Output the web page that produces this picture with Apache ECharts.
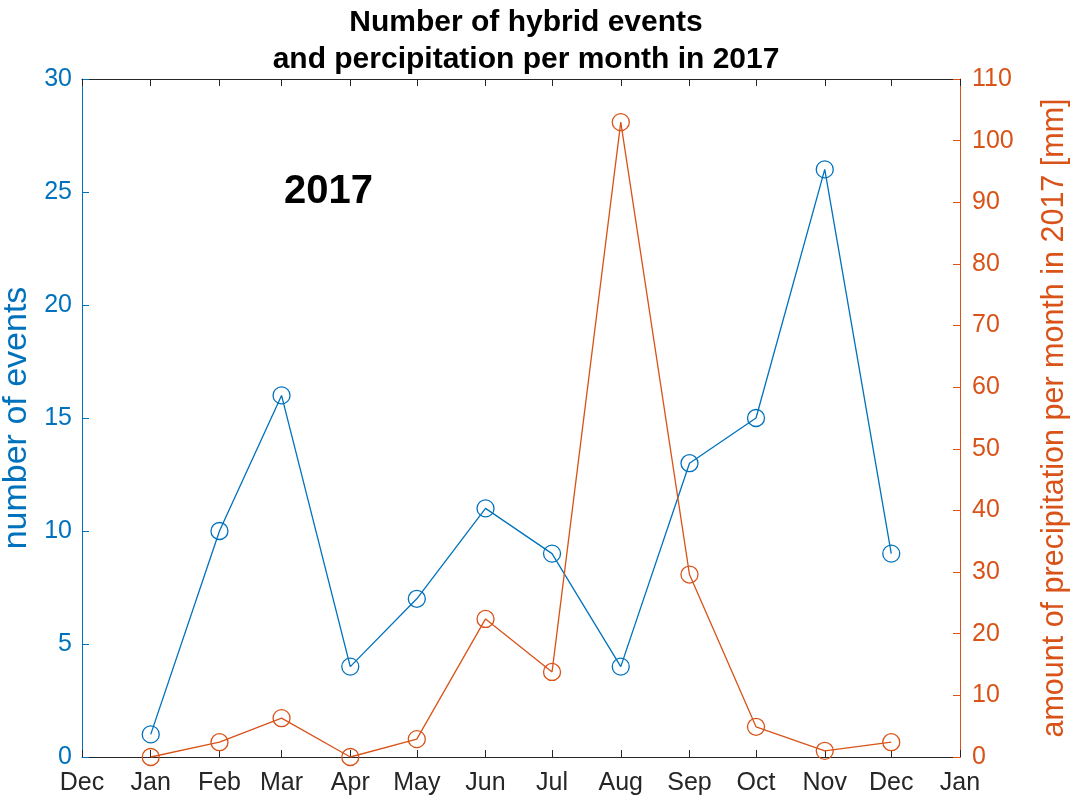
<!DOCTYPE html>
<html>
<head>
<meta charset="utf-8">
<script src="https://cdn.jsdelivr.net/npm/echarts@6/dist/echarts.min.js"></script>
<style>
html,body{margin:0;padding:0;background:#fff;}
#chart{width:1070px;height:803px;}
</style>
</head>
<body>
<div id="chart"></div>
<script>
// ---- data ----
var months = ['Jan','Feb','Mar','Apr','May','Jun','Jul','Aug','Sep','Oct','Nov','Dec'];
var tickLabels = ['Jan','Feb','Mar','Apr','May','Jun','Jul','Aug','Sep','Oct','Nov','Dec'];
var year = 2017;
var events = [1, 10, 16, 4, 7, 11, 9, 4, 13, 15, 26, 9];
var precip = [0, 2.4, 6.3, 0, 2.9, 22.4, 13.8, 103.0, 29.6, 4.9, 1.0, 2.4];

var BLUE = '#0072BD';
var ORANGE = '#D95319';
var DARK = '#262626';
var FONT = '"Liberation Sans", Arial, Helvetica, sans-serif';

function monthDate(i) { return new Date(year, i, 1).getTime(); }
var eventsData = months.map(function (m, i) { return [monthDate(i), events[i]]; });
var precipData = months.map(function (m, i) { return [monthDate(i), precip[i]]; });
var xMin = new Date(year - 1, 11, 1).getTime();
var xMax = new Date(year + 1, 0, 1).getTime();
var DAY = 86400000;

var chart = echarts.init(document.getElementById('chart'), null, {renderer: 'canvas'});

function timeAxis(pos, showLabels) {
  return {
    type: 'time',
    position: pos,
    min: xMin,
    max: xMax,
    splitNumber: 13,
    minInterval: 28 * DAY,
    maxInterval: 31 * DAY,
    axisLine: {show: true, onZero: false, lineStyle: {color: DARK, width: 1}},
    axisTick: {show: true, inside: true, length: 7, lineStyle: {color: DARK, width: 1}},
    splitLine: {show: false},
    axisLabel: {
      show: showLabels,
      margin: 14,
      color: DARK,
      fontSize: 25,
      fontFamily: FONT,
      showMinLabel: true,
      showMaxLabel: true,
      hideOverlap: false,
      formatter: function (v) { return tickLabels[new Date(v).getMonth()]; }
    }
  };
}

var option = {
  animation: false,
  backgroundColor: '#fff',
  title: {
    text: 'Number of hybrid events\nand percipitation per month in 2017',
    left: 521,
    textAlign: 'center',
    top: -1,
    textStyle: {fontFamily: FONT, fontSize: 30, fontWeight: 'bold', color: '#000', lineHeight: 37}
  },
  grid: {left: 82, right: 110, top: 79, bottom: 46, containLabel: false, outerBoundsMode: 'none'},
  xAxis: [timeAxis('bottom', true), timeAxis('top', false)],
  yAxis: [
    {
      type: 'value',
      position: 'left',
      min: 0, max: 30, interval: 5,
      name: 'number of events',
      nameLocation: 'middle',
      nameRotate: 90,
      nameGap: 45,
      nameTextStyle: {color: BLUE, fontSize: 34, fontFamily: FONT},
      axisLine: {show: true, lineStyle: {color: BLUE, width: 1}},
      axisTick: {show: true, inside: true, length: 7, lineStyle: {color: BLUE}},
      splitLine: {show: false},
      axisLabel: {color: BLUE, fontSize: 25, fontFamily: FONT, margin: 10}
    },
    {
      type: 'value',
      position: 'right',
      min: 0, max: 110, interval: 10,
      name: 'amount of precipitation per month in 2017 [mm]',
      nameLocation: 'middle',
      nameRotate: 90,
      nameGap: 79,
      nameTextStyle: {color: ORANGE, fontSize: 30.5, fontFamily: FONT},
      axisLine: {show: true, lineStyle: {color: ORANGE, width: 1}},
      axisTick: {show: true, inside: true, length: 7, lineStyle: {color: ORANGE}},
      splitLine: {show: false},
      axisLabel: {color: ORANGE, fontSize: 25, fontFamily: FONT, margin: 12}
    }
  ],
  graphic: [{
    type: 'text',
    x: 284, y: 192,
    style: {text: String(year), fontSize: 40, fontWeight: 'bold', fontFamily: FONT, fill: '#000', verticalAlign: 'middle', align: 'left'}
  }],
  series: [
    {
      name: 'events',
      type: 'line',
      xAxisIndex: 0, yAxisIndex: 0,
      data: eventsData,
      symbol: 'circle',
      symbolSize: 17,
      showAllSymbol: true,
      lineStyle: {color: BLUE, width: 1.3},
      itemStyle: {color: 'rgba(0,0,0,0)', borderColor: BLUE, borderWidth: 1.3},
      clip: false,
      z: 3
    },
    {
      name: 'precip',
      type: 'line',
      xAxisIndex: 0, yAxisIndex: 1,
      data: precipData,
      symbol: 'circle',
      symbolSize: 17,
      showAllSymbol: true,
      lineStyle: {color: ORANGE, width: 1.3},
      itemStyle: {color: 'rgba(0,0,0,0)', borderColor: ORANGE, borderWidth: 1.3},
      clip: false,
      z: 4
    }
  ]
};
chart.setOption(option);
</script>
</body>
</html>
